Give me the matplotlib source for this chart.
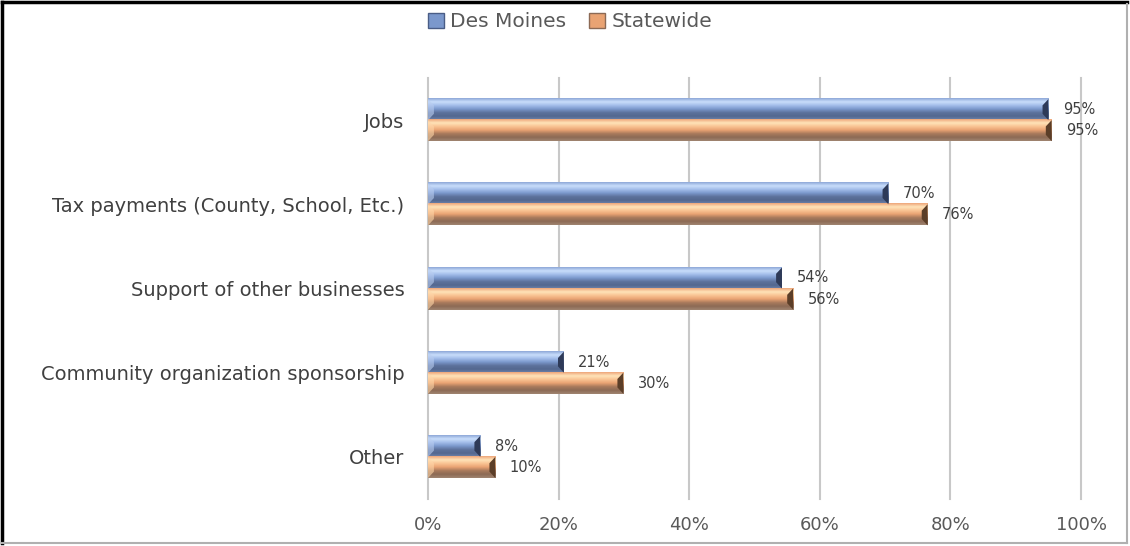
import matplotlib
matplotlib.use('Agg')
import matplotlib.pyplot as plt
from matplotlib.patches import Patch, Polygon
from matplotlib.lines import Line2D
from matplotlib.colors import LinearSegmentedColormap
import numpy as np

categories = ['Jobs', 'Tax payments (County, School, Etc.)', 'Support of other businesses',
              'Community organization sponsorship', 'Other']
des_moines = [0.95, 0.705, 0.542, 0.208, 0.08]
statewide = [0.955, 0.765, 0.559, 0.299, 0.103]
labels_dm = ['95%', '70%', '54%', '21%', '8%']
labels_sw = ['95%', '76%', '56%', '30%', '10%']
ticks = [0, 0.2, 0.4, 0.6, 0.8, 1.0]
tick_labels = ['0%', '20%', '40%', '60%', '80%', '100%']

# vertical shading top -> bottom for the bevelled bars
blue_shades = ['#8ea8d8', '#c9defb', '#a3bdea', '#7b98cc', '#5d729c', '#54688f', '#6f83ab']
orange_shades = ['#eea67a', '#ffe3b9', '#f9c493', '#e9a373', '#a97a5c', '#8c6a55', '#a08470']
blue_cmap = LinearSegmentedColormap.from_list('bl', blue_shades)
orange_cmap = LinearSegmentedColormap.from_list('or', orange_shades)

fig = plt.figure(figsize=(11.3, 5.46), dpi=100)
ax = fig.add_axes([0.3788, 0.0861, 0.5779, 0.771])

y = np.arange(len(categories))
h = 0.25

bars_dm = ax.barh(y - h / 2, des_moines, height=h, color='none', edgecolor='none')
bars_sw = ax.barh(y + h / 2, statewide, height=h, color='none', edgecolor='none')

grad = np.linspace(0, 1, 64).reshape(-1, 1)


def shade(bars, cmap, light, dark):
    for b in bars:
        x0, y0 = b.get_x(), b.get_y()
        w, hh = b.get_width(), b.get_height()
        ax.imshow(grad, cmap=cmap, aspect='auto', extent=[x0, x0 + w, y0 + hh, y0],
                  interpolation='bilinear', zorder=2, clip_path=b, clip_on=True)
        bw = 0.009
        bd = hh * 0.3
        ax.add_patch(Polygon([(x0 + w, y0), (x0 + w, y0 + hh), (x0 + w - bw, y0 + hh - bd),
                              (x0 + w - bw, y0 + bd)], closed=True, facecolor=dark,
                             edgecolor='none', zorder=3))
        ax.add_patch(Polygon([(x0, y0), (x0, y0 + hh), (x0 + bw, y0 + hh - bd),
                              (x0 + bw, y0 + bd)], closed=True, facecolor=light,
                             edgecolor='none', alpha=0.6, zorder=3))


shade(bars_dm, blue_cmap, '#b9cdf0', '#2e3a58')
shade(bars_sw, orange_cmap, '#ffd6a8', '#5b3e28')

for i in range(len(categories)):
    ax.text(des_moines[i] + 0.022, y[i] - h / 2, labels_dm[i], va='center', ha='left',
            fontsize=10.5, color='#404040')
    ax.text(statewide[i] + 0.022, y[i] + h / 2, labels_sw[i], va='center', ha='left',
            fontsize=10.5, color='#404040')

ax.set_xlim(0, 1.0)
ax.set_ylim(len(categories) - 0.5, -0.5)
ax.set_xticks(ticks)
ax.set_xticklabels(tick_labels, fontsize=13, color='#595959')
ax.set_yticks(y)
ax.set_yticklabels(categories, fontsize=14, color='#404040')
ax.tick_params(axis='both', length=0)
ax.tick_params(axis='x', pad=12)
ax.tick_params(axis='y', pad=17)
for s in ax.spines.values():
    s.set_visible(False)
ax.grid(axis='x', color='#c8c8c8', linewidth=1.5, zorder=0)
for gl in ax.get_xgridlines():
    gl.set_clip_on(False)
ax.set_axisbelow(True)

handles = [Patch(facecolor='#7b98cc', edgecolor='#4a5d86', label='Des Moines'),
           Patch(facecolor='#e9a373', edgecolor='#8c6a55', label='Statewide')]
fig.legend(handles=handles, loc='center', bbox_to_anchor=(0.5045, 0.96), ncol=2, frameon=False,
           fontsize=14.5, handlelength=0.8, handleheight=0.8, handletextpad=0.3,
           columnspacing=1.15, labelcolor='#595959')

# outer frame
fig.add_artist(Line2D([0.002, 0.997], [0.996, 0.996], color='black', lw=2.5))
fig.add_artist(Line2D([0.002, 0.002], [0.006, 0.996], color='black', lw=2.5))
fig.add_artist(Line2D([0.997, 0.997], [0.006, 0.993], color='#b0b0b0', lw=1.5))
fig.add_artist(Line2D([0.002, 0.997], [0.006, 0.006], color='#b0b0b0', lw=1.5))

fig.savefig('out.png', dpi=100)
